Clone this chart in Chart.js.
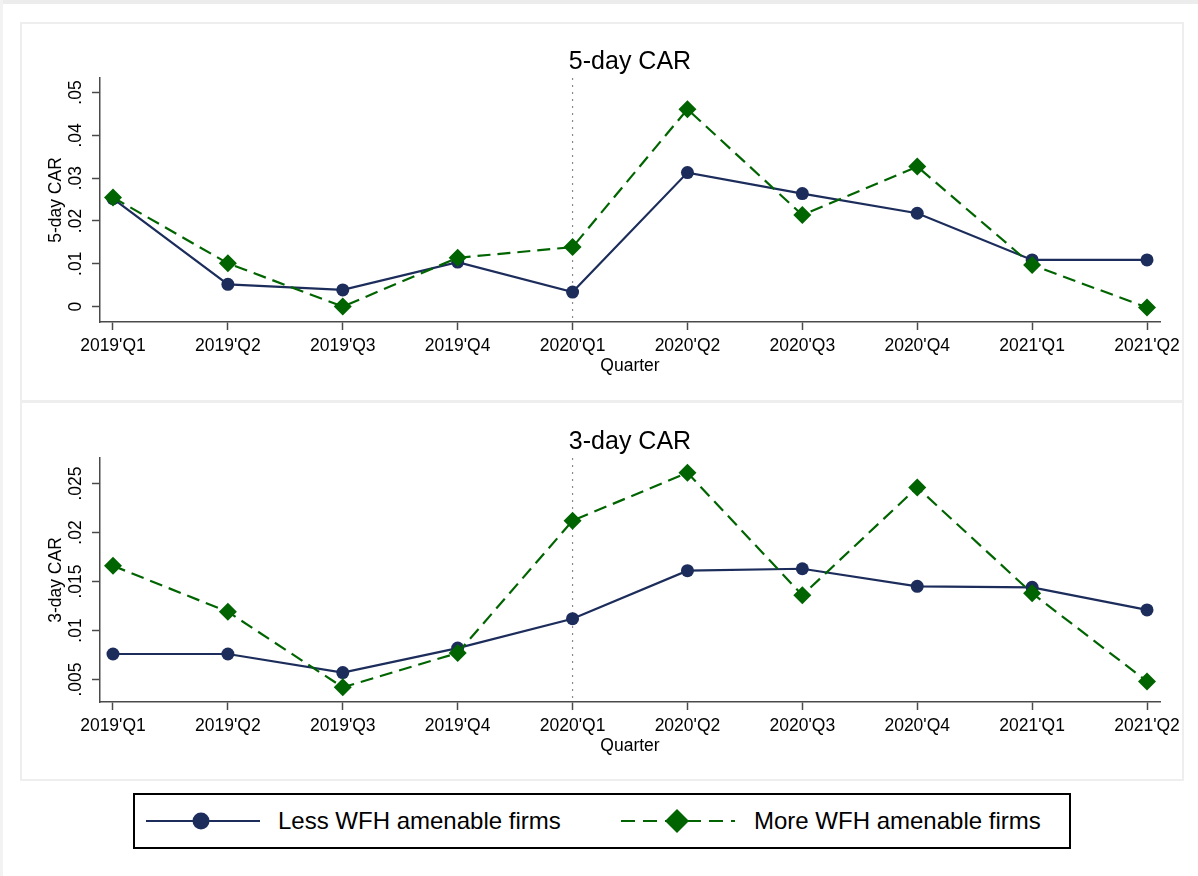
<!DOCTYPE html>
<html>
<head>
<meta charset="utf-8">
<script src="https://cdn.jsdelivr.net/npm/chart.js@4.4.1/dist/chart.umd.min.js"></script>
<style>
  html, body { margin: 0; padding: 0; background: #fff; }
  body { width: 1198px; height: 876px; position: relative; overflow: hidden; font-family: "Liberation Sans", Arial, sans-serif; }
  .top-band { position: absolute; left: 0; top: 0; width: 1198px; height: 4px; background: #ececec; }
  .left-band { position: absolute; left: 0; top: 0; width: 3px; height: 876px; background: #f2f2f2; }
  .panel { position: absolute; left: 20px; width: 1164px; height: 380px; box-sizing: border-box; border: 2px solid #eeeeee; }
  .chart-box { position: absolute; left: 21px; width: 1161px; height: 376px; }
  .legend { position: absolute; left: 133px; top: 793px; width: 938px; height: 56px; box-sizing: border-box; border: 2px solid #000; }
  .legend-sample { position: absolute; top: 0; }
  .legend-text { position: absolute; top: 0; height: 52px; line-height: 52px; font-size: 24px; color: #000; white-space: nowrap; }
</style>
</head>
<body>
<div class="top-band"></div>
<div class="left-band"></div>

<div class="panel" style="top:22px"></div>
<div class="panel" style="top:401px"></div>

<div class="chart-box" style="top:24px"><canvas id="car5-chart" width="1161" height="376"></canvas></div>
<div class="chart-box" style="top:404px"><canvas id="car3-chart" width="1161" height="376"></canvas></div>

<div class="legend">
  <svg class="legend-sample" style="left:11px" width="114" height="52">
    <line x1="0" y1="26" x2="114" y2="26" stroke="#1c2c5b" stroke-width="2.2"/>
    <circle cx="55" cy="26" r="8.5" fill="#1c2c5b"/>
  </svg>
  <span class="legend-text" style="left:143px">Less WFH amenable firms</span>
  <svg class="legend-sample" style="left:486px" width="114" height="52">
    <line x1="0" y1="26" x2="114" y2="26" stroke="#006400" stroke-width="2.2" stroke-dasharray="14 8"/>
    <polygon points="56,14 68,26 56,38 44,26" fill="#006400"/>
  </svg>
  <span class="legend-text" style="left:619px">More WFH amenable firms</span>
</div>

<script>
// Quarters on the x axis
const QUARTERS = ["2019'Q1", "2019'Q2", "2019'Q3", "2019'Q4", "2020'Q1", "2020'Q2", "2020'Q3", "2020'Q4", "2021'Q1", "2021'Q2"];
const EVENT_QUARTER = 4; // dotted line at 2020'Q1

// 5-day CAR
const CAR5_LESS = [0.0252, 0.0052, 0.0039, 0.0104, 0.0034, 0.0313, 0.0264, 0.0218, 0.0109, 0.0109];
const CAR5_MORE = [0.0255, 0.0101, 0.0000, 0.0114, 0.0139, 0.0461, 0.0214, 0.0327, 0.0097, -0.0002];
const CAR5_TICKS = [0, 0.01, 0.02, 0.03, 0.04, 0.05];
const CAR5_TICK_LABELS = ["0", ".01", ".02", ".03", ".04", ".05"];

// 3-day CAR
const CAR3_LESS = [0.0076, 0.0076, 0.0057, 0.0082, 0.0112, 0.0161, 0.0163, 0.0145, 0.0144, 0.0121];
const CAR3_MORE = [0.0166, 0.0119, 0.0042, 0.0077, 0.0212, 0.0261, 0.0136, 0.0246, 0.0138, 0.0048];
const CAR3_TICKS = [0.005, 0.01, 0.015, 0.02, 0.025];
const CAR3_TICK_LABELS = [".005", ".01", ".015", ".02", ".025"];

const NAVY = "#1c2c5b";
const GREEN = "#006400";
const AXIS = "#4a4a4a";
const X_PAD = 0.113;

Chart.defaults.font.family = '"Liberation Sans", Arial, sans-serif';
Chart.defaults.color = "#000";

function toPoints(values) {
  return values.map((v, i) => ({ x: i, y: v }));
}

/* DOTTED EVENT LINE */

const eventLinePlugin = {
  id: "eventLine",
  beforeDatasetsDraw(chart) {
    const { ctx, chartArea, scales } = chart;
    const x = scales.x.getPixelForValue(EVENT_QUARTER);
    ctx.save();
    ctx.strokeStyle = "#8a8a8a";
    ctx.lineWidth = 1.2;
    ctx.setLineDash([2, 5]);
    ctx.beginPath();
    ctx.moveTo(x, chartArea.top);
    ctx.lineTo(x, chartArea.bottom);
    ctx.stroke();
    ctx.restore();
  }
};

/* CHART CONFIG */

function buildPanelConfig(p) {
  return {
    type: "line",
    data: {
      datasets: [
        {
          label: "More WFH amenable firms",
          data: toPoints(p.more),
          borderColor: GREEN,
          borderWidth: 2.2,
          borderDash: [13, 7],
          pointStyle: "rectRot",
          pointRadius: 9,
          pointBackgroundColor: GREEN,
          pointBorderWidth: 0,
          tension: 0
        },
        {
          label: "Less WFH amenable firms",
          data: toPoints(p.less),
          borderColor: NAVY,
          borderWidth: 2.2,
          pointStyle: "circle",
          pointRadius: 6.5,
          pointBackgroundColor: NAVY,
          pointBorderWidth: 0,
          tension: 0
        }
      ]
    },
    options: {
      responsive: false,
      animation: false,
      events: [],
      layout: { padding: { left: 0, right: 22, top: 0, bottom: 0 } },
      scales: {
        x: {
          type: "linear",
          min: -X_PAD,
          max: QUARTERS.length - 1 + X_PAD,
          afterBuildTicks: (s) => { s.ticks = QUARTERS.map((q, i) => ({ value: i })); },
          afterFit: (s) => { s.height = 78; s.paddingLeft = 0; s.paddingRight = 0; },
          ticks: {
            autoSkip: false,
            maxRotation: 0,
            minRotation: 0,
            padding: 6,
            font: { size: 17.5 },
            color: "#000",
            callback: (v) => QUARTERS[v]
          },
          grid: { display: true, drawOnChartArea: false, drawTicks: true, tickLength: 8, tickColor: AXIS, tickWidth: 1.5 },
          border: { display: true, color: AXIS, width: 1.5 },
          title: { display: true, text: "Quarter", font: { size: 17.5 }, color: "#000", padding: { top: 0, bottom: 23 } }
        },
        y: {
          type: "linear",
          min: p.yMin,
          max: p.yMax,
          afterBuildTicks: (s) => { s.ticks = p.ticks.map((v) => ({ value: v })); },
          afterFit: (s) => { s.width = 79; s.paddingTop = 0; s.paddingBottom = 0; },
          ticks: {
            autoSkip: false,
            minRotation: 90,
            maxRotation: 90,
            crossAlign: "center",
            padding: p.tickPad,
            font: { size: 17.5 },
            color: "#000",
            callback: (v, i) => p.tickLabels[i]
          },
          grid: { display: true, drawOnChartArea: false, drawTicks: true, tickLength: 8, tickColor: AXIS, tickWidth: 1.5 },
          border: { display: true, color: AXIS, width: 1.5 },
          title: { display: true, text: p.yTitle, font: { size: 17.5 }, color: "#000", padding: { top: 25, bottom: 0 } }
        }
      },
      plugins: {
        legend: { display: false },
        tooltip: { enabled: false },
        title: {
          display: true,
          text: p.title,
          fullSize: false,
          color: "#000",
          font: { size: 25, weight: "normal" },
          padding: { top: 23, bottom: 1 }
        }
      }
    },
    plugins: [eventLinePlugin]
  };
}

/* INIT */

document.addEventListener("DOMContentLoaded", () => {
  new Chart(document.getElementById("car5-chart"), buildPanelConfig({
    title: "5-day CAR",
    yTitle: "5-day CAR",
    less: CAR5_LESS,
    more: CAR5_MORE,
    ticks: CAR5_TICKS,
    tickLabels: CAR5_TICK_LABELS,
    yMin: -0.0036,
    yMax: 0.0534,
    tickPad: 4
  }));

  new Chart(document.getElementById("car3-chart"), buildPanelConfig({
    title: "3-day CAR",
    yTitle: "3-day CAR",
    less: CAR3_LESS,
    more: CAR3_MORE,
    ticks: CAR3_TICKS,
    tickLabels: CAR3_TICK_LABELS,
    yMin: 0.0027,
    yMax: 0.0276,
    tickPad: -1.5
  }));
});
</script>
</body>
</html>
